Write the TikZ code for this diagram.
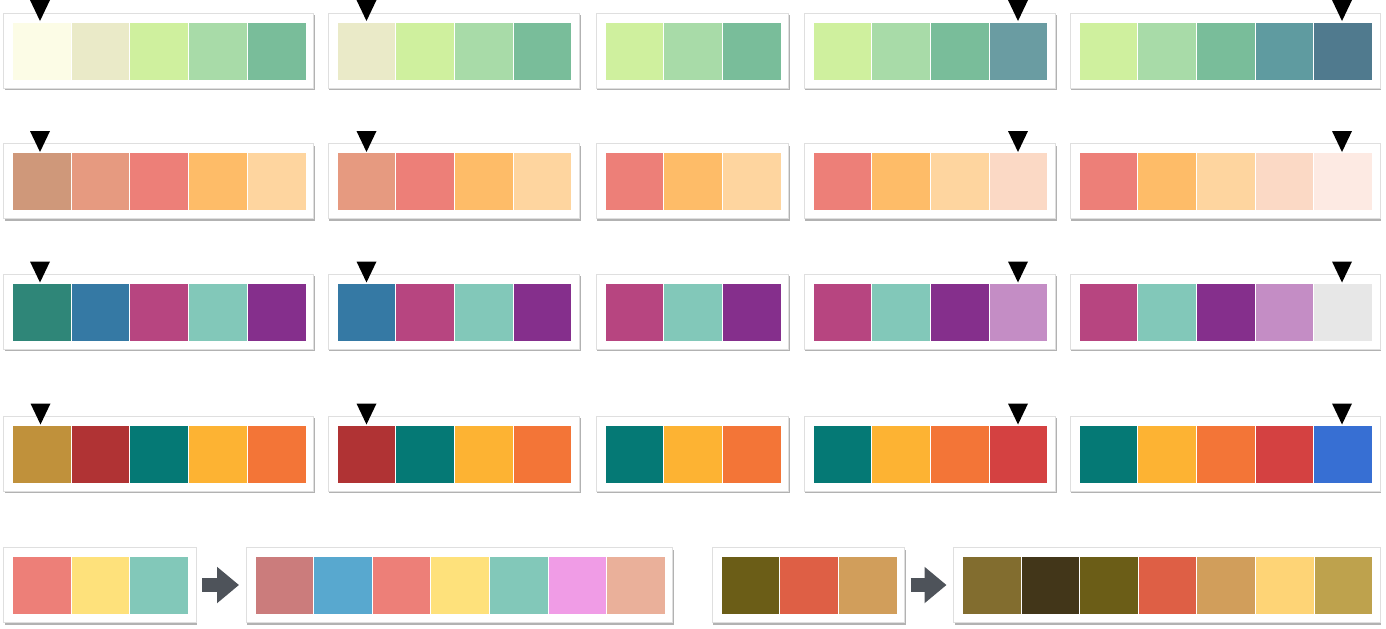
\documentclass[tikz,border=0pt]{standalone}
\usepackage{xcolor}
\usepackage{tikz}
\usetikzlibrary{arrows.meta, shadows}

% greens
\definecolor{lime1}{HTML}{FCFCE6}
\definecolor{lime2}{HTML}{EAEAC8}
\definecolor{lime3}{HTML}{CFF09E}
\definecolor{lime4}{HTML}{A8DBA8}
\definecolor{lime5}{HTML}{79BD9A}
\definecolor{lime6}{HTML}{6A9CA2}
\definecolor{lime7}{HTML}{5F9BA0}
\definecolor{lime8}{HTML}{507A8E}
% warms
\definecolor{warm1}{HTML}{CF987A}
\definecolor{warm2}{HTML}{E69A80}
\definecolor{warm3}{HTML}{ED7F78}
\definecolor{warm4}{HTML}{FEBC68}
\definecolor{warm5}{HTML}{FED59F}
\definecolor{warm6}{HTML}{FBD9C5}
\definecolor{warm7}{HTML}{FDEAE3}
% berries
\definecolor{berry1}{HTML}{2F8678}
\definecolor{berry2}{HTML}{3579A4}
\definecolor{berry3}{HTML}{B74580}
\definecolor{berry4}{HTML}{82C8B9}
\definecolor{berry5}{HTML}{852F8C}
\definecolor{berry6}{HTML}{C48DC5}
\definecolor{berry7}{HTML}{E7E7E7}
% bolds
\definecolor{bold1}{HTML}{C0913B}
\definecolor{bold2}{HTML}{B03334}
\definecolor{bold3}{HTML}{057975}
\definecolor{bold4}{HTML}{FDB333}
\definecolor{bold5}{HTML}{F37537}
\definecolor{bold6}{HTML}{D44141}
\definecolor{bold7}{HTML}{376FD3}
% extended sets
\definecolor{ext1}{HTML}{FEE17B}
\definecolor{ext2}{HTML}{CB7C7C}
\definecolor{ext3}{HTML}{58A8CF}
\definecolor{ext4}{HTML}{F09CE6}
\definecolor{ext5}{HTML}{EAB09A}
\definecolor{earth1}{HTML}{6B5D17}
\definecolor{earth2}{HTML}{DE5F45}
\definecolor{earth3}{HTML}{D19E5B}
\definecolor{earth4}{HTML}{826D2F}
\definecolor{earth5}{HTML}{423619}
\definecolor{earth6}{HTML}{FED476}
\definecolor{earth7}{HTML}{BEA24D}
\definecolor{framegray}{HTML}{DFDFDF}
\definecolor{arrowgray}{HTML}{4E535A}

\tikzset{
  frame/.style={draw=framegray, fill=white, line width=0.5pt, outer sep=0pt,
    anchor=north west, minimum height=37.5pt,
    drop shadow={shadow xshift=0.6pt, shadow yshift=-1.2pt, opacity=0.3, fill=black}},
  chip/.style={draw=white, line width=0.5pt},
  growarrow/.style={draw=arrowgray, line width=7pt,
    -{Triangle[width=17.5pt, length=11pt]}, shorten <=3pt, shorten >=3.5pt}
}

% name, x, y (top left of first chip), count, colours, chip width
\newcommand\drawpalette[6]{%
  \node[frame, minimum width={(#4*#6+16.5)*0.5pt}] (#1) at ({#2-9},{#3-9}) {};
  \foreach \c [count=\i from 0] in {#5}
    \filldraw[chip, fill=\c] ({#2+\i*#6},#3) rectangle ++(#6,58);
}
% x of tip, y of tip
\newcommand\pickmark[2]{\fill ({#1-10},{#2-21}) -- ({#1+10},{#2-21}) -- (#1,#2) -- cycle;}

\begin{document}
\begin{tikzpicture}[x=0.5pt, y=-0.5pt]
  \useasboundingbox (0,0) rectangle (1386,628);

  % row 1
  \drawpalette{p11}{12.5}{22}{5}{lime1,lime2,lime3,lime4,lime5}{58.7}
  \drawpalette{p12}{337}{22}{4}{lime2,lime3,lime4,lime5}{58.7}
  \drawpalette{p13}{605}{22}{3}{lime3,lime4,lime5}{58.7}
  \drawpalette{p14}{813}{22}{4}{lime3,lime4,lime5,lime6}{58.7}
  \drawpalette{p15}{1079}{22}{5}{lime3,lime4,lime5,lime7,lime8}{58.7}
  \pickmark{40}{21}
  \pickmark{366.5}{21}
  \pickmark{1018}{21}
  \pickmark{1342}{21}

  % row 2
  \drawpalette{p21}{12.5}{152.7}{5}{warm1,warm2,warm3,warm4,warm5}{58.7}
  \drawpalette{p22}{337}{152.7}{4}{warm2,warm3,warm4,warm5}{58.7}
  \drawpalette{p23}{605}{152.7}{3}{warm3,warm4,warm5}{58.7}
  \drawpalette{p24}{813}{152.7}{4}{warm3,warm4,warm5,warm6}{58.7}
  \drawpalette{p25}{1079}{152.7}{5}{warm3,warm4,warm5,warm6,warm7}{58.7}
  \pickmark{40}{152}
  \pickmark{366.5}{152}
  \pickmark{1018}{152}
  \pickmark{1342}{152}

  % row 3
  \drawpalette{p31}{12.5}{283}{5}{berry1,berry2,berry3,berry4,berry5}{58.7}
  \drawpalette{p32}{337}{283}{4}{berry2,berry3,berry4,berry5}{58.7}
  \drawpalette{p33}{605}{283}{3}{berry3,berry4,berry5}{58.7}
  \drawpalette{p34}{813}{283}{4}{berry3,berry4,berry5,berry6}{58.7}
  \drawpalette{p35}{1079}{283}{5}{berry3,berry4,berry5,berry6,berry7}{58.7}
  \pickmark{40}{282.5}
  \pickmark{366.5}{282.5}
  \pickmark{1018}{282.5}
  \pickmark{1342}{282.5}

  % row 4
  \drawpalette{p41}{12.5}{425}{5}{bold1,bold2,bold3,bold4,bold5}{58.7}
  \drawpalette{p42}{337}{425}{4}{bold2,bold3,bold4,bold5}{58.7}
  \drawpalette{p43}{605}{425}{3}{bold3,bold4,bold5}{58.7}
  \drawpalette{p44}{813}{425}{4}{bold3,bold4,bold5,bold6}{58.7}
  \drawpalette{p45}{1079}{425}{5}{bold3,bold4,bold5,bold6,bold7}{58.7}
  \pickmark{40.5}{424.5}
  \pickmark{366.5}{424.5}
  \pickmark{1018}{424.5}
  \pickmark{1342}{424.5}

  % row 5: three colours grown to seven
  \drawpalette{p51}{12.5}{556.5}{3}{warm3,ext1,berry4}{58.7}
  \drawpalette{p52}{255}{556.5}{7}{ext2,ext3,warm3,ext1,berry4,ext4,ext5}{58.6}
  \drawpalette{p53}{721}{556.5}{3}{earth1,earth2,earth3}{58.7}
  \drawpalette{p54}{962.5}{556.5}{7}{earth4,earth5,earth1,earth2,earth3,earth6,earth7}{58.6}
  \draw[growarrow] (p51.east) -- (p52.west);
  \draw[growarrow] (p53.east) -- (p54.west);

\end{tikzpicture}
\end{document}
